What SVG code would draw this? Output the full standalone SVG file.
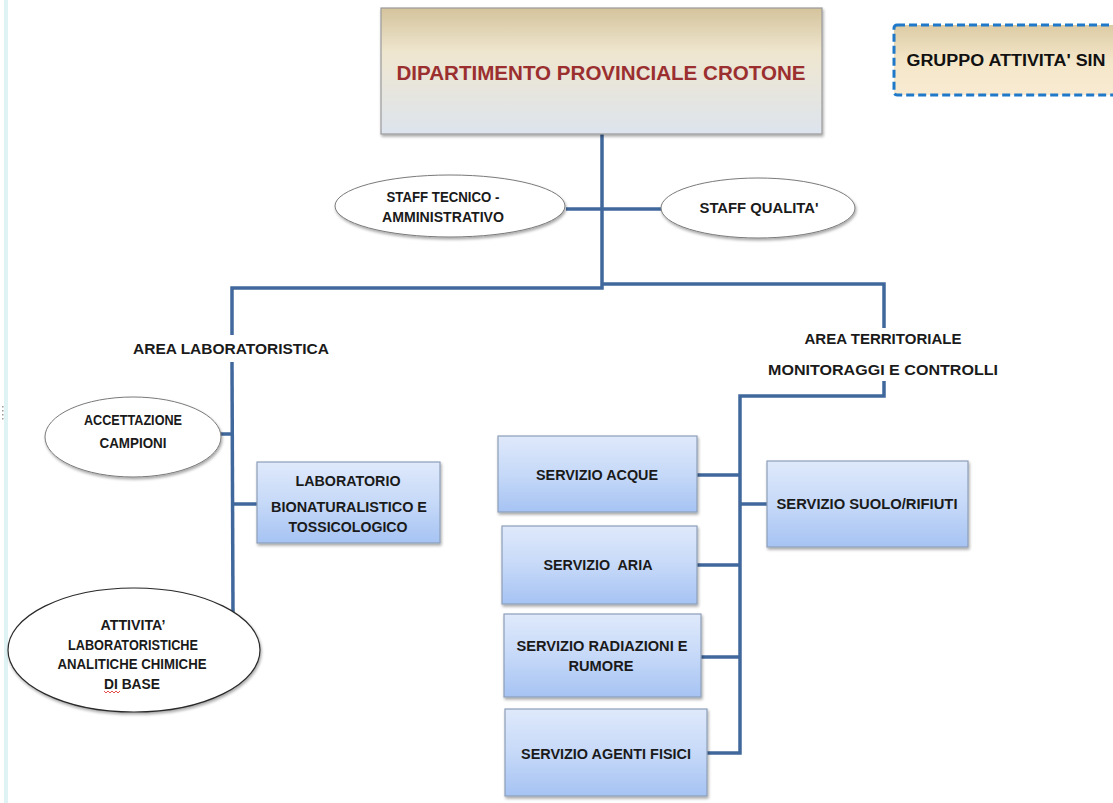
<svg xmlns="http://www.w3.org/2000/svg" width="1113" height="803" viewBox="0 0 1113 803">
<defs>
<linearGradient id="gMain" x1="0" y1="0" x2="0" y2="1">
<stop offset="0" stop-color="#d4c39c"/>
<stop offset="0.35" stop-color="#efe6cf"/>
<stop offset="1" stop-color="#dde4ee"/>
</linearGradient>
<linearGradient id="gSin" x1="0" y1="0" x2="0" y2="1">
<stop offset="0" stop-color="#dccba4"/>
<stop offset="0.5" stop-color="#f3e6c8"/>
<stop offset="1" stop-color="#f8ebd2"/>
</linearGradient>
<linearGradient id="gBlue" x1="0" y1="0" x2="0" y2="1">
<stop offset="0" stop-color="#dfe9fb"/>
<stop offset="0.5" stop-color="#c6d9f8"/>
<stop offset="1" stop-color="#a6c3f3"/>
</linearGradient>
<filter id="sh" x="-10%" y="-10%" width="125%" height="130%">
<feGaussianBlur in="SourceAlpha" stdDeviation="1.5"/>
<feOffset dx="1" dy="2" result="o"/>
<feComponentTransfer><feFuncA type="linear" slope="0.35"/></feComponentTransfer>
<feMerge><feMergeNode/><feMergeNode in="SourceGraphic"/></feMerge>
</filter>
</defs>
<style>
.t{font-family:"Liberation Sans Narrow","Liberation Sans",Arial,sans-serif;font-weight:bold;font-size:14px;fill:#1a1a1a;text-anchor:middle}
.box{fill:url(#gBlue);stroke:#8d9fb8;stroke-width:1.2}
.ell{fill:#ffffff;stroke:#7a7a7a;stroke-width:1}
.c{fill:none;stroke:#41689c;stroke-width:3.5;stroke-linejoin:miter}
</style>
<rect x="0" y="0" width="1113" height="803" fill="#ffffff"/>
<rect x="4" y="0" width="4" height="803" fill="#dff2f4"/>
<g fill="#9a9a9a"><rect x="2" y="406" width="1.5" height="1.5"/><rect x="2" y="410" width="1.5" height="1.5"/><rect x="2" y="414" width="1.5" height="1.5"/><rect x="2" y="418" width="1.5" height="1.5"/></g>

<g id="connectors">
<polyline class="c" points="602,134 602,288 232,288 232,335"/>
<polyline class="c" points="602,284 884,284 884,328"/>
<line class="c" x1="232" y1="362" x2="233" y2="616"/>
<polyline class="c" points="884,381 884,396 740,396 740,753 707,753"/>
<line class="c" x1="566" y1="209" x2="662" y2="209"/>
<line class="c" x1="221" y1="434" x2="232" y2="434"/>
<line class="c" x1="232" y1="504" x2="257" y2="504"/>
<line class="c" x1="697" y1="475" x2="740" y2="475"/>
<line class="c" x1="697" y1="565" x2="740" y2="565"/>
<line class="c" x1="701" y1="657" x2="740" y2="657"/>
<line class="c" x1="740" y1="504" x2="767" y2="504"/>
</g>

<g id="dipartimento">
<rect x="381" y="8" width="441" height="126" fill="url(#gMain)" stroke="#9a9a9a" stroke-width="1.2" filter="url(#sh)"/>
<text class="t" x="601" y="80" style="font-size:21px;fill:#9b2f2f" textLength="409" lengthAdjust="spacingAndGlyphs">DIPARTIMENTO PROVINCIALE CROTONE</text>
</g>

<g id="gruppo-sin">
<rect x="894" y="25" width="230" height="70" rx="3" fill="url(#gSin)" stroke="#1f78c8" stroke-width="3" stroke-dasharray="8,4"/>
<text class="t" x="1006" y="66" style="font-size:16px;fill:#111" textLength="199" lengthAdjust="spacingAndGlyphs">GRUPPO ATTIVITA' SIN</text>
</g>

<g id="staff-tecnico">
<ellipse class="ell" cx="450" cy="206" rx="115" ry="31" filter="url(#sh)"/>
<text class="t" x="443" y="202" textLength="113" lengthAdjust="spacingAndGlyphs">STAFF TECNICO -</text>
<text class="t" x="443" y="222" textLength="122" lengthAdjust="spacingAndGlyphs">AMMINISTRATIVO</text>
</g>

<g id="staff-qualita">
<ellipse class="ell" cx="758" cy="208" rx="97" ry="30" filter="url(#sh)"/>
<text class="t" x="759" y="213" textLength="119" lengthAdjust="spacingAndGlyphs">STAFF QUALITA'</text>
</g>

<g id="area-laboratoristica">
<text class="t" x="231" y="354" style="font-size:15px" textLength="196" lengthAdjust="spacingAndGlyphs">AREA LABORATORISTICA</text>
</g>

<g id="area-territoriale">
<text class="t" x="883" y="344" style="font-size:15px" textLength="157" lengthAdjust="spacingAndGlyphs">AREA TERRITORIALE</text>
<text class="t" x="883" y="375" style="font-size:15px" textLength="230" lengthAdjust="spacingAndGlyphs">MONITORAGGI E CONTROLLI</text>
</g>

<g id="accettazione">
<ellipse class="ell" cx="133" cy="437" rx="88" ry="40" filter="url(#sh)"/>
<text class="t" x="133" y="425" textLength="98" lengthAdjust="spacingAndGlyphs">ACCETTAZIONE</text>
<text class="t" x="133" y="448" textLength="67" lengthAdjust="spacingAndGlyphs">CAMPIONI</text>
</g>

<g id="laboratorio">
<rect class="box" x="257" y="462" width="183" height="81" filter="url(#sh)"/>
<text class="t" x="348" y="486" textLength="105" lengthAdjust="spacingAndGlyphs">LABORATORIO</text>
<text class="t" x="349" y="512" textLength="156" lengthAdjust="spacingAndGlyphs">BIONATURALISTICO E</text>
<text class="t" x="348" y="532" textLength="119" lengthAdjust="spacingAndGlyphs">TOSSICOLOGICO</text>
</g>

<g id="attivita">
<ellipse cx="134" cy="650" rx="126" ry="62" fill="#ffffff" stroke="#2a2a2a" stroke-width="1.2" filter="url(#sh)"/>
<text class="t" x="133" y="630" textLength="65" lengthAdjust="spacingAndGlyphs">ATTIVITA’</text>
<text class="t" x="133" y="650" textLength="130" lengthAdjust="spacingAndGlyphs">LABORATORISTICHE</text>
<text class="t" x="132" y="669" textLength="149" lengthAdjust="spacingAndGlyphs">ANALITICHE CHIMICHE</text>
<text class="t" x="132" y="689" textLength="56" lengthAdjust="spacingAndGlyphs">DI BASE</text>
<polyline points="104,691 106,693 108,691 110,693 112,691 114,693 116,691 118,693 120,691" fill="none" stroke="#e02020" stroke-width="0.8"/>
</g>

<g id="servizio-acque">
<rect class="box" x="498" y="436" width="199" height="76" filter="url(#sh)"/>
<text class="t" x="597" y="480" textLength="122" lengthAdjust="spacingAndGlyphs">SERVIZIO ACQUE</text>
</g>

<g id="servizio-aria">
<rect class="box" x="502" y="526" width="195" height="78" filter="url(#sh)"/>
<text class="t" x="598" y="570" textLength="109" lengthAdjust="spacingAndGlyphs" xml:space="preserve">SERVIZIO  ARIA</text>
</g>

<g id="servizio-radiazioni">
<rect class="box" x="504" y="614" width="197" height="83" filter="url(#sh)"/>
<text class="t" x="602" y="651" textLength="171" lengthAdjust="spacingAndGlyphs">SERVIZIO RADIAZIONI E</text>
<text class="t" x="601" y="671" textLength="65" lengthAdjust="spacingAndGlyphs">RUMORE</text>
</g>

<g id="servizio-agenti-fisici">
<rect class="box" x="505" y="709" width="202" height="87" filter="url(#sh)"/>
<text class="t" x="606" y="759" textLength="170" lengthAdjust="spacingAndGlyphs">SERVIZIO AGENTI FISICI</text>
</g>

<g id="servizio-suolo">
<rect class="box" x="767" y="461" width="201" height="86" filter="url(#sh)"/>
<text class="t" x="867" y="509" textLength="181" lengthAdjust="spacingAndGlyphs">SERVIZIO SUOLO/RIFIUTI</text>
</g>
</svg>
